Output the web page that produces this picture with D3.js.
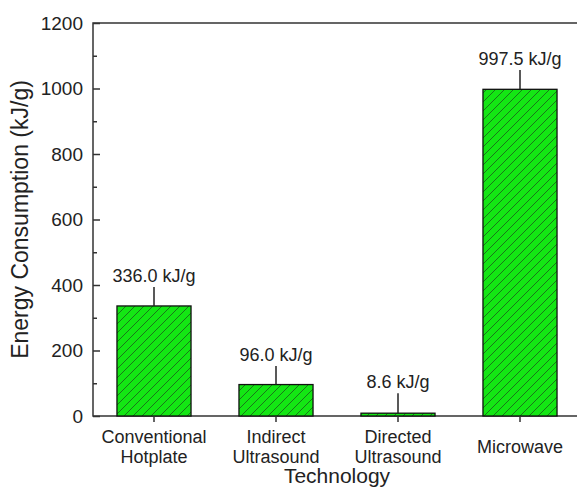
<!DOCTYPE html>
<html>
<head>
<meta charset="utf-8">
<script src="https://cdn.jsdelivr.net/npm/d3@7"></script>
<style>
	body { margin: 0; background: #fff; overflow: hidden; }
	svg text { font-family: "Liberation Sans", Arial, sans-serif; fill: #222; }
</style>
</head>
<body>
<div class="box"></div>
<script>
var categories = [
	['Conventional', 'Hotplate'],
	['Indirect', 'Ultrasound'],
	['Directed', 'Ultrasound'],
	['Microwave']
];
var values = [336.0, 96.0, 8.6, 997.5];
var errors = [58, 57, 61, 59];
var valueLabels = ['336.0 kJ/g', '96.0 kJ/g', '8.6 kJ/g', '997.5 kJ/g'];
var yTicks = [0, 200, 400, 600, 800, 1000, 1200];
var yMinorTicks = [100, 300, 500, 700, 900, 1100];

var width = 577, height = 491;
var margin = {left: 93, top: 23, right: -4, bottom: 75};

var svg = d3.select('.box')
	.append('svg')
	.attr('width', width)
	.attr('height', height)
	.style('overflow', 'hidden');

var defs = svg.append('defs');
var pat = defs.append('pattern')
	.attr('id', 'hatch')
	.attr('patternUnits', 'userSpaceOnUse')
	.attr('width', 9)
	.attr('height', 9);
pat.append('rect')
	.attr('width', 9)
	.attr('height', 9)
	.style('fill', '#14e614');
pat.append('path')
	.attr('d', 'M-2,11 L11,-2 M-2,2 L2,-2 M7,11 L11,7')
	.style('stroke', '#1a5a1a')
	.style('stroke-width', 0.8);

var x0 = margin.left, x1 = width - margin.right;
var y0 = height - margin.bottom, y1 = margin.top;

var x = d3.scaleBand()
	.domain(d3.range(categories.length))
	.range([x0, x1])
	.paddingInner(0.393)
	.paddingOuter(0.1965);

var y = d3.scaleLinear()
	.domain([0, 1200])
	.range([y0, y1]);

// frame (right side falls outside the picture)
svg.append('path')
	.attr('d', 'M' + x1 + ',' + y1 + 'H' + x0 + 'V' + y0 + 'H' + x1)
	.style('fill', 'none')
	.style('stroke', '#333')
	.style('stroke-width', 1.5);

// bars
svg.selectAll('rect.bar')
	.data(values)
	.enter()
	.append('rect')
		.attr('class', 'bar')
		.attr('x', function(d, i) { return x(i); })
		.attr('y', function(d) { return y(d); })
		.attr('width', x.bandwidth())
		.attr('height', function(d) { return y0 - y(d); })
		.style('fill', 'url(#hatch)')
		.style('stroke', '#111')
		.style('stroke-width', 1.3);

// error bars (upper only)
svg.selectAll('line.err')
	.data(values)
	.enter()
	.append('line')
		.attr('class', 'err')
		.attr('x1', function(d, i) { return x(i) + x.bandwidth() / 2; })
		.attr('x2', function(d, i) { return x(i) + x.bandwidth() / 2; })
		.attr('y1', function(d) { return y(d); })
		.attr('y2', function(d, i) { return y(d + errors[i]); })
		.style('stroke', '#222')
		.style('stroke-width', 1.5);

// value labels
svg.selectAll('text.val')
	.data(values)
	.enter()
	.append('text')
		.attr('class', 'val')
		.attr('x', function(d, i) { return x(i) + x.bandwidth() / 2; })
		.attr('y', function(d, i) { return y(d + errors[i]) - 5; })
		.attr('text-anchor', 'middle')
		.style('font-size', '18px')
		.text(function(d, i) { return valueLabels[i]; });

// y axis
var yAxis = d3.axisLeft(y)
	.tickValues(yTicks)
	.tickFormat(d3.format('d'))
	.tickSize(-7)
	.tickPadding(10);
var gy = svg.append('g')
	.attr('transform', 'translate(' + x0 + ',0)')
	.call(yAxis);
gy.select('.domain').remove();
gy.selectAll('.tick line').style('stroke', '#333').style('stroke-width', 1.5);
gy.selectAll('.tick text').style('font-size', '19px').style('font-family', '"Liberation Sans", Arial, sans-serif').style('fill', '#222');

var gyMinor = svg.append('g')
	.attr('transform', 'translate(' + x0 + ',0)')
	.call(d3.axisLeft(y).tickValues(yMinorTicks).tickSize(-4).tickFormat(''));
gyMinor.select('.domain').remove();
gyMinor.selectAll('.tick line').style('stroke', '#333').style('stroke-width', 1.5);

// x axis
var xAxis = d3.axisBottom(x)
	.tickSize(6)
	.tickFormat('');
var gx = svg.append('g')
	.attr('transform', 'translate(0,' + y0 + ')')
	.call(xAxis);
gx.select('.domain').remove();
gx.selectAll('.tick line').style('stroke', '#333').style('stroke-width', 1.5);

svg.selectAll('text.cat')
	.data(categories)
	.enter()
	.append('text')
		.attr('class', 'cat')
		.attr('text-anchor', 'middle')
		.style('font-size', '18px')
		.attr('transform', function(d, i) {
			var yy = d.length === 1 ? y0 + 37 : y0 + 27;
			return 'translate(' + (x(i) + x.bandwidth() / 2) + ',' + yy + ')';
		})
		.each(function(d) {
			var t = d3.select(this);
			d.forEach(function(line, j) {
				t.append('tspan')
					.attr('x', 0)
					.attr('y', j * 20)
					.text(line);
			});
		});

// axis titles
svg.append('text')
	.attr('x', (x0 + x1) / 2)
	.attr('y', y0 + 67)
	.attr('text-anchor', 'middle')
	.style('font-size', '21px')
	.text('Technology');

svg.append('text')
	.attr('transform', 'translate(28,' + ((y0 + y1) / 2) + ') rotate(-90)')
	.attr('text-anchor', 'middle')
	.style('font-size', '23px')
	.text('Energy Consumption (kJ/g)');
</script>
</body>
</html>
